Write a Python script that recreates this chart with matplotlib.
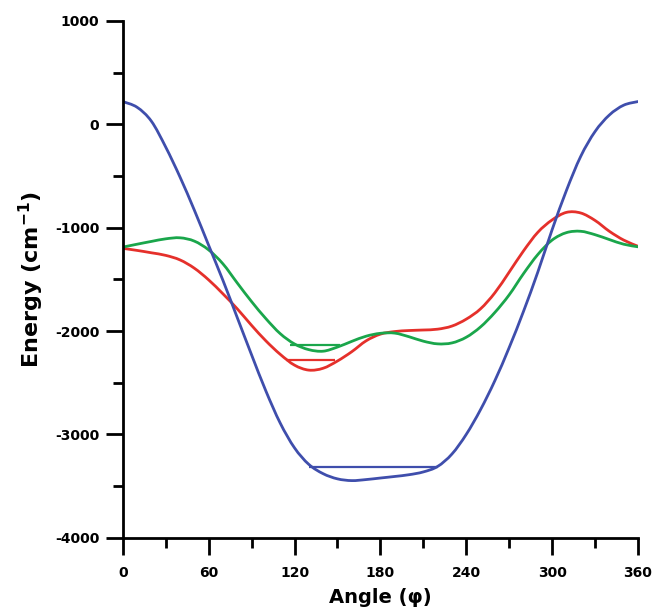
import numpy as np
import matplotlib
matplotlib.use("Agg")
import matplotlib.pyplot as plt
from matplotlib.path import Path
from matplotlib.patches import PathPatch
from matplotlib.ticker import MultipleLocator

plt.rcParams['axes.unicode_minus'] = False
plt.rcParams['font.family'] = 'DejaVu Sans'

# torsion angle (deg) and energies (cm-1)
angle = list(range(0, 361, 10))

blue_energy = [220, 165, 30, -220, -510, -830, -1170, -1510, -1870, -2230,
               -2580, -2890, -3130, -3290, -3380, -3430, -3447, -3437, -3422, -3407,
               -3390, -3363, -3310, -3190, -3000, -2760, -2480, -2160, -1810, -1430,
               -1020, -640, -310, -70, 90, 185, 220]

red_energy = [-1200, -1220, -1243, -1268, -1312, -1392, -1505, -1640, -1785, -1945,
              -2095, -2225, -2330, -2378, -2360, -2290, -2200, -2095, -2030, -2005,
              -1995, -1990, -1982, -1952, -1885, -1785, -1630, -1430, -1225, -1045,
              -925, -852, -858, -930, -1035, -1120, -1180]

green_energy = [-1188, -1160, -1133, -1108, -1098, -1130, -1215, -1350, -1535, -1715,
                -1880, -2025, -2125, -2180, -2195, -2155, -2100, -2050, -2022, -2020,
                -2055, -2098, -2124, -2115, -2060, -1960, -1820, -1650, -1445, -1260,
                -1120, -1048, -1035, -1068, -1115, -1160, -1185]

# zero-point levels: energy, start angle, end angle
level_energy = [-3312, -2281, -2136]
level_start = [130, 114, 117]
level_end = [220, 148, 152]

blue = '#3f4eac'
red = '#e5302b'
green = '#1aa64b'
level_colors = [blue, red, green]


def smooth_path(x, y):
    # Catmull-Rom spline through the points, drawn as cubic Bezier segments
    p = np.column_stack([x, y]).astype(float)
    p = np.vstack([p[0], p, p[-1]])
    verts = [p[1]]
    codes = [Path.MOVETO]
    for i in range(1, len(p) - 2):
        c1 = p[i] + (p[i + 1] - p[i - 1]) / 6.0
        c2 = p[i + 1] - (p[i + 2] - p[i]) / 6.0
        verts += [c1, c2, p[i + 1]]
        codes += [Path.CURVE4] * 3
    return Path(verts, codes)


fig = plt.figure(figsize=(6.53, 6.16), dpi=100)
ax = fig.add_axes([0.188, 0.127, 0.789, 0.839])

for series, color in [(red_energy, red), (green_energy, green), (blue_energy, blue)]:
    ax.add_patch(PathPatch(smooth_path(angle, series), fill=False,
                           edgecolor=color, lw=2.0, capstyle='round'))

ax.hlines(level_energy, level_start, level_end, colors=level_colors, lw=1.6)

ax.set_xlim(0, 360)
ax.set_ylim(-4000, 1000)
ax.xaxis.set_major_locator(MultipleLocator(60))
ax.xaxis.set_minor_locator(MultipleLocator(30))
ax.yaxis.set_major_locator(MultipleLocator(1000))
ax.yaxis.set_minor_locator(MultipleLocator(500))

for side in ['top', 'right']:
    ax.spines[side].set_visible(False)
for side in ['left', 'bottom']:
    ax.spines[side].set_linewidth(2.0)
    ax.spines[side].set_capstyle('projecting')

ax.tick_params(which='major', direction='out', length=12, width=2)
ax.tick_params(which='minor', direction='out', length=7, width=2)
ax.tick_params(axis='y', which='major', pad=5)
ax.tick_params(axis='x', which='major', pad=8)

for lab in ax.get_xticklabels() + ax.get_yticklabels():
    lab.set_fontweight('bold')
    lab.set_fontsize(10)

ax.set_xlabel('Angle (\u03c6)', fontsize=14, fontweight='bold', labelpad=6)
ax.set_ylabel(r'Energy (cm$^{\mathbf{-1}}$)', fontsize=16, fontweight='bold', labelpad=6)

fig.savefig('out.png', dpi=100)
